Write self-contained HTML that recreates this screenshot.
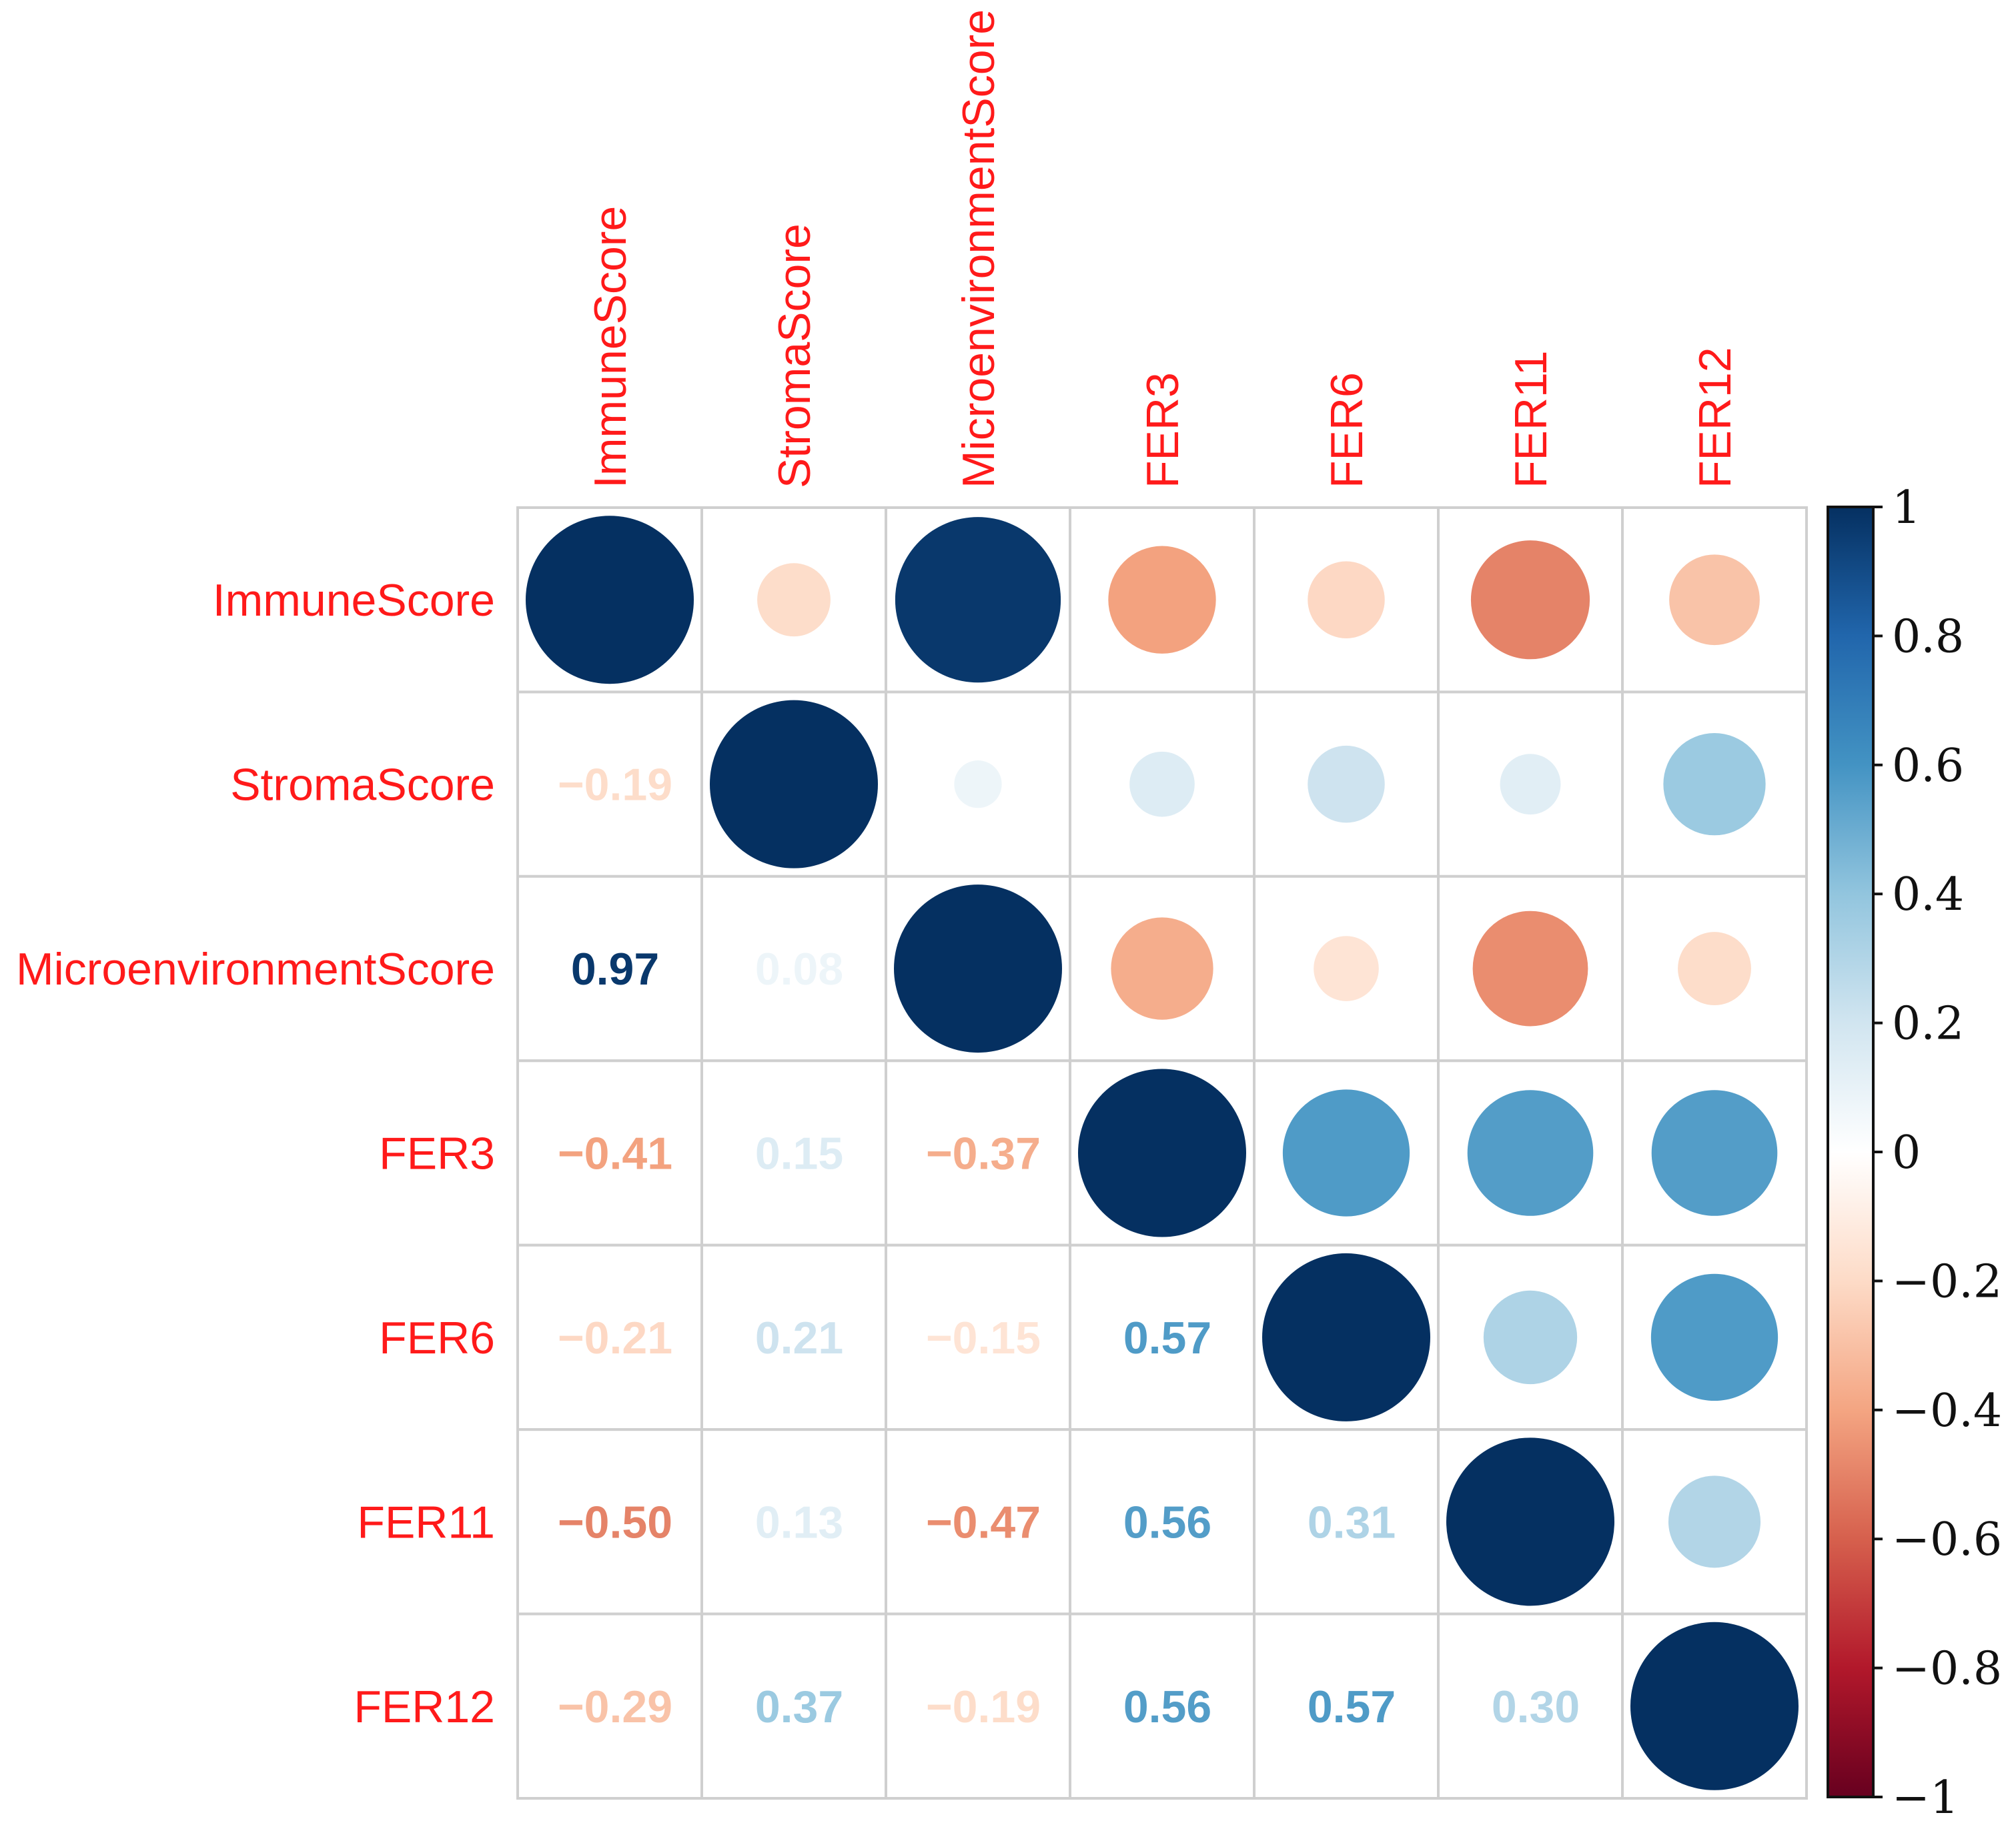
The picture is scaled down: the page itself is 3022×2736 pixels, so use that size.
<!DOCTYPE html>
<html><head><meta charset="utf-8"><style>
html,body{margin:0;padding:0;background:#fff;}
svg{display:block;}
</style></head><body>
<svg id="chart" width="3022" height="2736" xmlns="http://www.w3.org/2000/svg"></svg>
<script>
const variables = ["ImmuneScore","StromaScore","MicroenvironmentScore","FER3","FER6","FER11","FER12"];
const row0 = [1, -0.19, 0.97, -0.41, -0.21, -0.50, -0.29];
const row1 = [-0.19, 1, 0.08, 0.15, 0.21, 0.13, 0.37];
const row2 = [0.97, 0.08, 1, -0.37, -0.15, -0.47, -0.19];
const row3 = [-0.41, 0.15, -0.37, 1, 0.57, 0.56, 0.56];
const row4 = [-0.21, 0.21, -0.15, 0.57, 1, 0.31, 0.57];
const row5 = [-0.50, 0.13, -0.47, 0.56, 0.31, 1, 0.30];
const row6 = [-0.29, 0.37, -0.19, 0.56, 0.57, 0.30, 1];
const matrix = [row0,row1,row2,row3,row4,row5,row6];
const colorTicks = [1,0.8,0.6,0.4,0.2,0,-0.2,-0.4,-0.6,-0.8,-1];
const palette = ["#67001F","#B2182B","#D6604D","#F4A582","#FDDBC7","#FFFFFF","#D1E5F0","#92C5DE","#4393C3","#2166AC","#053061"];

const NS="http://www.w3.org/2000/svg";
const svg=document.getElementById('chart');
const L=776,T=761,R=2708,B=2696;
const n=variables.length, cw=(R-L)/n, ch=(B-T)/n;
const xc=i=>L+cw*(i+0.5), yc=j=>T+ch*(j+0.5);
function mk(tag,attrs,parent){const e=document.createElementNS(NS,tag);for(const k in attrs)e.setAttribute(k,attrs[k]);(parent||svg).appendChild(e);return e;}
function hex(h){return [1,3,5].map(i=>parseInt(h.substr(i,2),16));}
function col(v){const t=(v+1)/2*(palette.length-1);const i=Math.min(Math.floor(t),palette.length-2);const f=t-i;const a=hex(palette[i]),b=hex(palette[i+1]);return 'rgb('+a.map((x,k)=>Math.round(x+(b[k]-x)*f)).join(',')+')';}
const cbTop=760,cbBot=2694,cbL=2740,cbR=2808;
const cy=v=>cbTop+(1-v)/2*(cbBot-cbTop);

for(let j=0;j<n;j++)for(let i=0;i<n;i++){
  const r=mk('rect',{x:L+cw*i,y:T+ch*j,width:cw,height:ch,fill:'#fff',stroke:'#cfcfcf','stroke-width':4});
  
  
}
for(let j=0;j<n;j++)for(let i=0;i<n;i++){
  const v=matrix[j][i];
  if(i>=j){
    const c=mk('circle',{cx:xc(i),cy:yc(j),r:Math.sqrt(Math.abs(v))*126,fill:col(v)});
    
    
  } else {
    const t=mk('text',{x:xc(i)+8,y:yc(j)+24,'text-anchor':'middle','font-family':'Liberation Sans, sans-serif','font-size':68,'font-weight':'bold',fill:col(v)});
    t.textContent=v.toFixed(2).replace('-','\u2212');
    
    
  }
}
variables.forEach((name,k)=>{
  const t=mk('text',{x:742,y:yc(k)+24,'text-anchor':'end','font-family':'Liberation Sans, sans-serif','font-size':68,fill:'#ff1a1a'});
  t.textContent=name;
  
  
  const u=mk('text',{x:0,y:0,'text-anchor':'start','font-family':'Liberation Sans, sans-serif','font-size':68,fill:'#ff1a1a',transform:'translate('+(xc(k)+24)+',732) rotate(-90)'});
  u.textContent=name;
  
  
});
const defs=mk('defs',{});
const g=mk('linearGradient',{id:'cb',x1:0,y1:1,x2:0,y2:0},defs);
palette.forEach((p,i)=>mk('stop',{offset:(i/(palette.length-1)),'stop-color':p},g));
const bar=mk('rect',{x:cbL,y:cbTop,width:cbR-cbL,height:cbBot-cbTop,fill:'url(#cb)',stroke:'#111','stroke-width':4});


colorTicks.forEach(v=>{
  const tk=mk('line',{x1:cbR,x2:cbR+14,y1:cy(v),y2:cy(v),stroke:'#111','stroke-width':4});
  
  
  const t=mk('text',{x:cbR+28,y:cy(v)+24,'font-family':'DejaVu Serif, Liberation Serif, serif','font-size':68,fill:'#111'});
  t.textContent=String(v).replace('-','\u2212');
  
  
});
</script>
</body></html>
